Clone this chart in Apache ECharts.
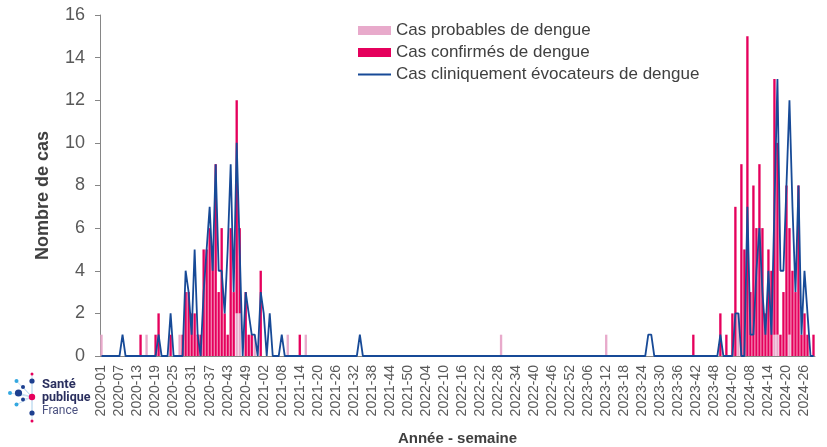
<!DOCTYPE html>
<html lang="fr">
<head>
<meta charset="utf-8">
<title>Dengue - cas par semaine</title>
<script src="https://cdn.jsdelivr.net/npm/echarts@6/dist/echarts.min.js"></script>
<style>
  html, body { margin: 0; padding: 0; background: #fff; }
  #chart { width: 827px; height: 447px; }
</style>
</head>
<body>
<div id="chart"></div>
<script>
// années et nombre de semaines affichées (2024 : jusqu'à S29)
const annees = [2020, 2021, 2022, 2023, 2024]
const nbSemaines = [53, 52, 52, 52, 29]

// graduations de l'axe Y
const yMin = 0
const yMax = 16
const yPas = 2

// Cas probables de dengue (une ligne par année)
const casProbables = [
  1,0,0,0,0,0,0,0,0,0, 0,0,0,0,0,1,0,0,0,0, 0,0,0,0,0,0,1,0,0,0, 0,0,0,0,0,0,0,0,0,0, 0,0,0,0,0,2,2,0,0,0, 0,1,0,
  0,0,0,0,0,0,0,0,0,1, 0,0,0,0,0,1,0,0,0,0, 0,0,0,0,0,0,0,0,0,0, 0,0,0,0,0,0,0,0,0,0, 0,0,0,0,0,0,0,0,0,0, 0,0,
  0,0,0,0,0,0,0,0,0,0, 0,0,0,0,0,0,0,0,0,0, 0,0,0,0,0,0,0,0,1,0, 0,0,0,0,0,0,0,0,0,0, 0,0,0,0,0,0,0,0,0,0, 0,0,
  0,0,0,0,0,0,0,0,0,0, 0,1,0,0,0,0,0,0,0,0, 0,0,0,0,0,0,0,0,0,0, 0,0,0,0,0,0,0,0,0,0, 0,0,0,0,0,0,0,0,0,0, 0,0,
  0,0,0,2,0,0,0,0,0,0, 0,0,0,0,0,1,1,0,0,0, 1,0,0,0,0,0,0,0,0
]

// Cas confirmés de dengue
const casConfirmes = [
  0,0,0,0,0,0,0,0,0,0, 0,0,0,1,0,0,0,0,1,2, 0,0,0,1,0,0,0,1,3,3, 2,2,1,1,5,5,6,5,9,3, 6,2,1,6,3,10,4,0,3,1, 1,0,0,
  4,0,0,0,0,0,0,0,0,0, 0,0,0,1,0,0,0,0,0,0, 0,0,0,0,0,0,0,0,0,0, 0,0,0,0,0,0,0,0,0,0, 0,0,0,0,0,0,0,0,0,0, 0,0,
  0,0,0,0,0,0,0,0,0,0, 0,0,0,0,0,0,0,0,0,0, 0,0,0,0,0,0,0,0,0,0, 0,0,0,0,0,0,0,0,0,0, 0,0,0,0,0,0,0,0,0,0, 0,0,
  0,0,0,0,0,0,0,0,0,0, 0,0,0,0,0,0,0,0,0,0, 0,0,0,0,0,0,0,0,0,0, 0,0,0,0,0,0,0,0,0,0, 1,0,0,0,0,0,0,0,0,2, 0,1,
  0,2,7,0,9,5,15,3,8,6, 9,6,2,5,4,12,9,1,3,8, 5,4,3,8,1,2,1,0,1
]

// Cas cliniquement évocateurs de dengue
const casCliniques = [
  0,0,0,0,0,0,0,1,0,0, 0,0,0,0,0,0,0,0,0,1, 0,0,0,2,0,0,0,0,4,3, 1,5,1,0,3,5,7,4,9,4, 4,2,5,9,3,10,5,0,3,2, 1,1,0,
  3,2,0,2,0,0,0,1,0,0, 0,0,0,0,0,0,0,0,0,0, 0,0,0,0,0,0,0,0,0,0, 0,0,0,1,0,0,0,0,0,0, 0,0,0,0,0,0,0,0,0,0, 0,0,
  0,0,0,0,0,0,0,0,0,0, 0,0,0,0,0,0,0,0,0,0, 0,0,0,0,0,0,0,0,0,0, 0,0,0,0,0,0,0,0,0,0, 0,0,0,0,0,0,0,0,0,0, 0,0,
  0,0,0,0,0,0,0,0,0,0, 0,0,0,0,0,0,0,0,0,0, 0,0,0,0,0,1,1,0,0,0, 0,0,0,0,0,0,0,0,0,0, 0,0,0,0,0,0,0,0,0,1, 0,0,
  0,0,2,2,0,0,7,1,1,4, 6,3,1,4,1,7,13,4,4,8, 12,7,3,8,1,4,2,0,0
]

// libellés "AAAA-SS"
const semaines = []
annees.forEach((a, k) => {
  for (let s = 1; s <= nbSemaines[k]; s++) {
    semaines.push(a + '-' + String(s).padStart(2, '0'))
  }
})

const police = 'Liberation Sans, Arial, sans-serif'
const couleurProb = '#e8aacb'
const couleurConf = '#e5005c'
const couleurClin = '#174a97'

// logo Santé publique France (décor)
function logo() {
  const centre = [32, 397]
  const points = [
    [32, 374, 1.5, '#e6005c'], [32, 381, 2.6, '#1d3f8f'], [16.5, 381, 2, '#35a8e0'],
    [23, 387, 2, '#1d3f8f'], [10, 393, 2, '#35a8e0'], [18.5, 393, 3.6, '#1d3f8f'],
    [23, 399.5, 2, '#1d3f8f'], [16.5, 404.5, 2, '#35a8e0'], [32, 413, 2.6, '#1d3f8f'],
    [32, 421, 1.5, '#e6005c']
  ]
  const els = []
  points.forEach(p => {
    els.push({ type: 'line', shape: { x1: centre[0], y1: centre[1], x2: p[0], y2: p[1] },
      style: { stroke: '#b9d8ef', lineWidth: 0.8 } })
  })
  points.forEach(p => {
    els.push({ type: 'circle', shape: { cx: p[0], cy: p[1], r: p[2] }, style: { fill: p[3] } })
  })
  els.push({ type: 'circle', shape: { cx: centre[0], cy: centre[1], r: 3.2 }, style: { fill: '#e6005c' } })
  els.push({ type: 'text', x: 42, y: 385, style: { text: 'Santé', font: 'bold 13px Roboto, sans-serif', fill: '#2a2f5e', verticalAlign: 'middle' } })
  els.push({ type: 'text', x: 42, y: 398, style: { text: 'publique', font: 'bold 12.5px Roboto, sans-serif', fill: '#2a2f5e', verticalAlign: 'middle' } })
  els.push({ type: 'text', x: 42, y: 411, style: { text: 'France', font: '12px Roboto, sans-serif', fill: '#4c5280', verticalAlign: 'middle' } })
  return els
}

const chart = echarts.init(document.getElementById('chart'))
chart.setOption({
  animation: false,
  backgroundColor: '#fff',
  grid: { left: 100, right: 12, top: 15, bottom: 91, containLabel: false, outerBoundsMode: 'none' },
  legend: {
    orient: 'vertical',
    left: 353,
    top: 17,
    itemWidth: 33,
    itemHeight: 9,
    itemGap: 5,
    textStyle: { fontFamily: police, fontSize: 17, color: '#404040' },
    data: [
      { name: 'Cas probables de dengue', icon: 'rect' },
      { name: 'Cas confirmés de dengue', icon: 'rect' },
      { name: 'Cas cliniquement évocateurs de dengue', icon: 'path://M0,0 L33,0 L33,2 L0,2 Z' }
    ]
  },
  xAxis: {
    type: 'category',
    data: semaines,
    name: 'Année - semaine',
    nameLocation: 'middle',
    nameGap: 75,
    nameTextStyle: { fontFamily: police, fontSize: 15, fontWeight: 'bold', color: '#404040' },
    axisLine: { lineStyle: { color: '#868686' } },
    axisTick: { interval: 0, length: 3, lineStyle: { color: '#9a9a9a' } },
    axisLabel: { interval: 5, rotate: 90, margin: 9, fontFamily: police, fontSize: 14, color: '#595959' }
  },
  yAxis: {
    type: 'value',
    min: yMin,
    max: yMax,
    interval: yPas,
    name: 'Nombre de cas',
    nameLocation: 'middle',
    nameGap: 48,
    nameTextStyle: { fontFamily: police, fontSize: 18, fontWeight: 'bold', color: '#404040', padding: [0, 20, 0, 0] },
    axisLine: { show: true, lineStyle: { color: '#868686' } },
    axisTick: { show: true, length: 5, lineStyle: { color: '#868686' } },
    splitLine: { show: false },
    axisLabel: { margin: 15, fontFamily: police, fontSize: 18, color: '#595959' }
  },
  series: [
    {
      name: 'Cas probables de dengue',
      type: 'bar',
      stack: 'cas',
      barCategoryGap: '22%',
      itemStyle: { color: couleurProb },
      data: casProbables
    },
    {
      name: 'Cas confirmés de dengue',
      type: 'bar',
      stack: 'cas',
      barCategoryGap: '22%',
      itemStyle: { color: couleurConf },
      data: casConfirmes
    },
    {
      name: 'Cas cliniquement évocateurs de dengue',
      type: 'line',
      symbol: 'none',
      z: 5,
      lineStyle: { color: couleurClin, width: 1.8 },
      itemStyle: { color: couleurClin },
      data: casCliniques
    }
  ],
  graphic: logo()
})
</script>
</body>
</html>
